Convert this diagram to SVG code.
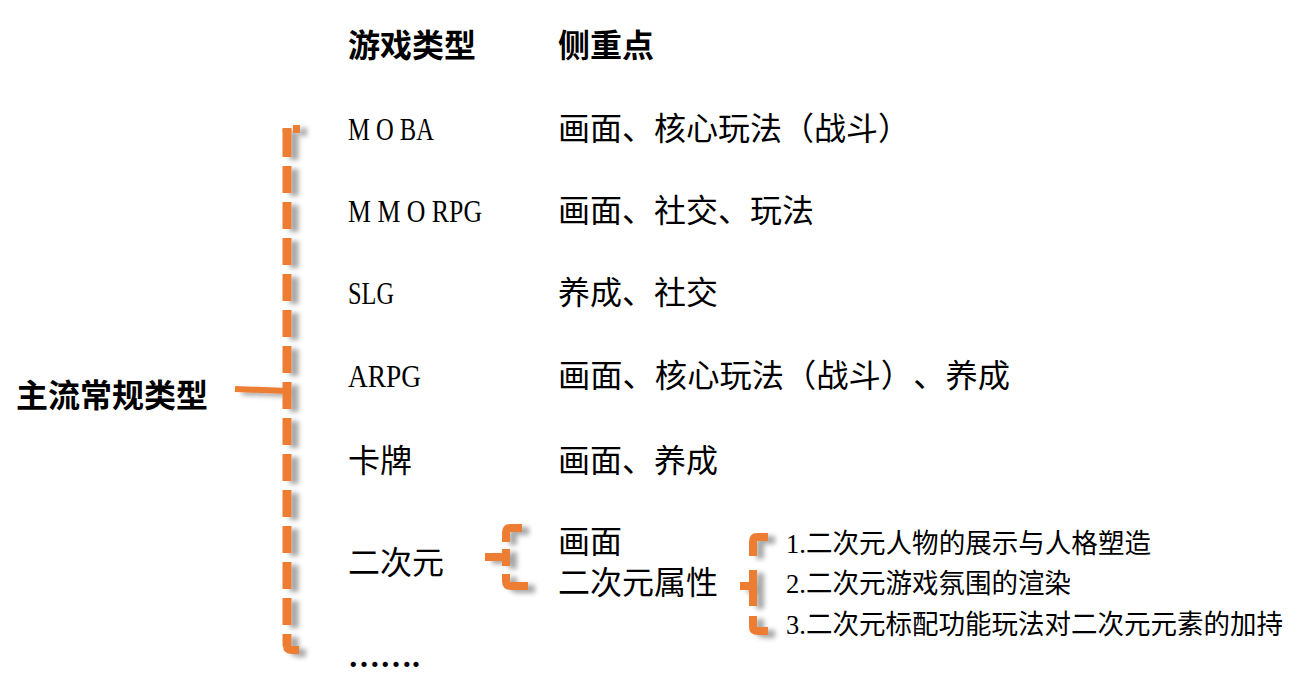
<svg xmlns="http://www.w3.org/2000/svg" width="1316" height="697" viewBox="0 0 1316 697">
  <defs>
    <filter id="sh" x="-100%" y="-10%" width="300%" height="120%">
      <feDropShadow dx="7" dy="3" stdDeviation="2.5" flood-color="#000" flood-opacity="0.35"/>
    </filter>
  </defs>
  <style>
    text { font-family: "Liberation Serif", "Noto Sans CJK SC", serif; fill: #000; text-spacing-trim: space-all; }
    .b { font-size: 32px; font-weight: bold; }
    .t { font-size: 32px; }
    .s { font-size: 27px; }
    .br { fill: none; stroke: #ED7D31; stroke-linecap: butt; stroke-linejoin: round; }
  </style>
  <rect width="1316" height="697" fill="#fff"/>

  <g id="connectors" filter="url(#sh)">
    <g id="bracket-main">
      <path class="br" d="M287,130 L287,646" stroke-width="9" stroke-dasharray="27 9"/>
      <path class="br" d="M300,129 L293,129" stroke-width="8"/>
      <path class="br" d="M287,128 L287,132" stroke-width="9"/>
      <path class="br" d="M287,634 L287,646 Q287,650 292,650 L299,650" stroke-width="8"/>
      <path class="br" d="M235,389 L287,391" stroke-width="6"/>
    </g>
    <g id="bracket-erciyuan">
      <path class="br" d="M522,528 L510,528 Q506,528 506,533 L506,542" stroke-width="8"/>
      <path class="br" d="M506,549 L506,566 M485,557 L506,557" stroke-width="8"/>
      <path class="br" d="M506,574 L506,581 Q506,586 511,586 L528,586" stroke-width="8"/>
    </g>
    <g id="bracket-attr">
      <path class="br" d="M768,537 L757,537 Q753,537 753,542 L753,556" stroke-width="8"/>
      <path class="br" d="M753,570 L753,606 M740,586 L753,586" stroke-width="8"/>
      <path class="br" d="M753,616 L753,627 Q753,631 758,631 L768,631" stroke-width="8"/>
    </g>
  </g>

  <g id="header">
    <text class="b" x="348" y="57">游戏类型</text>
    <text class="b" x="558" y="57">侧重点</text>
  </g>

  <g id="root">
    <text class="b" x="16" y="407">主流常规类型</text>
  </g>

  <g id="row-moba">
    <text class="t" x="348" y="140" textLength="86" lengthAdjust="spacingAndGlyphs">M O BA</text>
    <text class="t" x="558" y="140" textLength="352" lengthAdjust="spacingAndGlyphs">画面、核心玩法（战斗）</text>
  </g>
  <g id="row-mmorpg">
    <text class="t" x="348" y="222" textLength="134" lengthAdjust="spacingAndGlyphs">M M O RPG</text>
    <text class="t" x="558" y="222">画面、社交、玩法</text>
  </g>
  <g id="row-slg">
    <text class="t" x="348" y="304" textLength="46" lengthAdjust="spacingAndGlyphs">SLG</text>
    <text class="t" x="558" y="304">养成、社交</text>
  </g>
  <g id="row-arpg">
    <text class="t" x="348" y="387" textLength="73" lengthAdjust="spacingAndGlyphs">ARPG</text>
    <text class="t" x="558" y="387" textLength="452" lengthAdjust="spacingAndGlyphs">画面、核心玩法（战斗）、养成</text>
  </g>
  <g id="row-card">
    <text class="t" x="348" y="472">卡牌</text>
    <text class="t" x="558" y="472">画面、养成</text>
  </g>
  <g id="row-erciyuan">
    <text class="t" x="348" y="574">二次元</text>
  </g>
  <g id="node-huamian">
    <text class="t" x="558" y="553">画面</text>
  </g>
  <g id="node-attr">
    <text class="t" x="558" y="594">二次元属性</text>
  </g>
  <g id="node-attr-list">
    <text class="s" x="786" y="553" textLength="365" lengthAdjust="spacingAndGlyphs">1.二次元人物的展示与人格塑造</text>
    <text class="s" x="786" y="593" textLength="285" lengthAdjust="spacingAndGlyphs">2.二次元游戏氛围的渲染</text>
    <text class="s" x="786" y="634" textLength="497" lengthAdjust="spacingAndGlyphs">3.二次元标配功能玩法对二次元元素的加持</text>
  </g>
  <g id="row-more">
    <text class="t" x="348" y="667" font-weight="bold">…….</text>
  </g>
</svg>
